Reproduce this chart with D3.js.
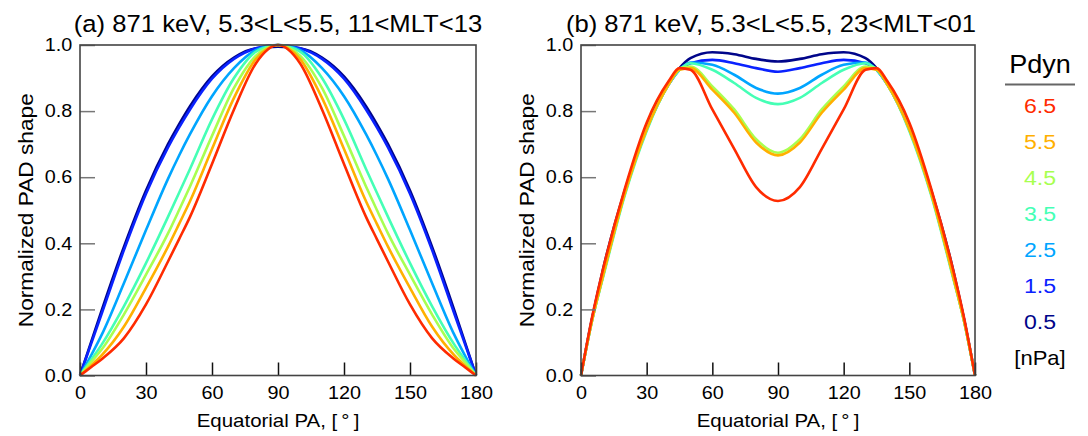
<!DOCTYPE html>
<meta charset="utf-8">
<script src="https://d3js.org/d3.v7.min.js"></script>
<style>
    body { margin: 0; background: #fff; }
    svg { display: block; font-family: "Liberation Sans", Arial, sans-serif; }
</style>
<svg width="1088" height="436"></svg>
<script>
    // pitch angle grid (deg)
    const pa = [0,5,10,20,30,40,45,50,60,70,80,90,100,110,120,130,135,140,150,160,170,175,180];
    const pdyn = ["6.5","5.5","4.5","3.5","2.5","1.5","0.5"];
    const colors = ["#ff2b00","#ffb000","#a8ff50","#45ffb5","#00a5ff","#0a22ff","#00058a"];
    const yTicks = [0, 0.2, 0.4, 0.6, 0.8, 1.0];
    const xTicks = [0, 30, 60, 90, 120, 150, 180];

    // (a) noon sector, ordered like pdyn
    const a65 = [0,0.025,0.05,0.113,0.215,0.345,0.412,0.48,0.64,0.805,0.945,1.0,0.945,0.805,0.64,0.48,0.412,0.345,0.215,0.113,0.05,0.025,0];
    const a55 = [0,0.03,0.062,0.148,0.265,0.39,0.458,0.527,0.685,0.84,0.958,1.0,0.958,0.84,0.685,0.527,0.458,0.39,0.265,0.148,0.062,0.03,0];
    const a45 = [0,0.04,0.08,0.185,0.305,0.43,0.50,0.572,0.725,0.87,0.968,1.0,0.968,0.87,0.725,0.572,0.50,0.43,0.305,0.185,0.08,0.04,0];
    const a35 = [0,0.047,0.095,0.21,0.34,0.48,0.552,0.625,0.775,0.90,0.98,1.0,0.98,0.90,0.775,0.625,0.552,0.48,0.34,0.21,0.095,0.047,0];
    const a25 = [0,0.06,0.125,0.28,0.44,0.595,0.665,0.73,0.845,0.93,0.985,1.0,0.985,0.93,0.845,0.73,0.665,0.595,0.44,0.28,0.125,0.06,0];
    const a15 = [0,0.095,0.19,0.38,0.55,0.69,0.75,0.805,0.898,0.958,0.99,1.0,0.99,0.958,0.898,0.805,0.75,0.69,0.55,0.38,0.19,0.095,0];
    const a05 = [0,0.10,0.20,0.39,0.56,0.70,0.76,0.815,0.905,0.962,0.99,0.995,0.99,0.962,0.905,0.815,0.76,0.70,0.56,0.39,0.20,0.10,0];

    // (b) midnight sector
    const b65 = [0,0.175,0.32,0.565,0.765,0.89,0.93,0.925,0.805,0.686,0.57,0.528,0.57,0.686,0.805,0.925,0.93,0.89,0.765,0.565,0.32,0.175,0];
    const b55 = [0,0.165,0.30,0.55,0.745,0.88,0.925,0.93,0.865,0.795,0.705,0.666,0.705,0.795,0.865,0.93,0.925,0.88,0.745,0.55,0.30,0.165,0];
    const b45 = [0,0.165,0.30,0.55,0.745,0.88,0.93,0.935,0.875,0.805,0.715,0.674,0.715,0.805,0.875,0.935,0.93,0.88,0.745,0.55,0.30,0.165,0];
    const b35 = [0,0.165,0.295,0.545,0.74,0.88,0.925,0.945,0.925,0.885,0.84,0.821,0.84,0.885,0.925,0.945,0.925,0.88,0.74,0.545,0.295,0.165,0];
    const b25 = [0,0.165,0.30,0.55,0.745,0.88,0.925,0.947,0.94,0.91,0.87,0.853,0.87,0.91,0.94,0.947,0.925,0.88,0.745,0.55,0.30,0.165,0];
    const b15 = [0,0.17,0.31,0.555,0.745,0.88,0.925,0.945,0.955,0.945,0.93,0.919,0.93,0.945,0.955,0.945,0.925,0.88,0.745,0.555,0.31,0.17,0];
    const b05 = [0,0.17,0.32,0.56,0.75,0.885,0.93,0.96,0.978,0.972,0.958,0.95,0.958,0.972,0.978,0.96,0.93,0.885,0.75,0.56,0.32,0.17,0];

    const panels = [
        { title: "(a) 871 keV, 5.3<L<5.5, 11<MLT<13", x0: 80, x1: 476, dx: 0, series: [a65,a55,a45,a35,a25,a15,a05] },
        { title: "(b) 871 keV, 5.3<L<5.5, 23<MLT<01", x0: 581, x1: 975, dx: -7, series: [b65,b55,b45,b35,b25,b15,b05] }
    ];

    const svg = d3.select("svg");
    const yTop = 45, yBottom = 375.5;
    const sx = 1.1; // the original lettering is a bit wide

    panels.forEach(p => {
        const x = d3.scaleLinear().domain([0, 180]).range([p.x0, p.x1]);
        const y = d3.scaleLinear().domain([0, 1]).range([yBottom, yTop]);
        const g = svg.append("g");

        // curves, low Pdyn first so red ends on top
        const line = d3.line().x((d, i) => x(pa[i])).y(d => y(d)).curve(d3.curveMonotoneX);
        const order = d3.range(p.series.length).reverse();
        g.selectAll("path.curve")
            .data(order)
            .enter().append("path")
            .attr("class", "curve")
            .attr("fill", "none")
            .attr("stroke", i => colors[i])
            .attr("stroke-width", 2.6)
            .attr("d", i => line(p.series[i]));

        // axes with inward ticks
        const ya = g.append("g").attr("transform", `translate(${p.x0},0)`)
            .call(d3.axisLeft(y).tickValues(yTicks).tickFormat(d3.format(".1f")).tickSizeInner(-15).tickSizeOuter(0).tickPadding(7));
        ya.select(".domain").remove();
        ya.selectAll("line").attr("stroke", "#777").attr("stroke-width", 1.5);
        ya.selectAll("text").attr("font-size", 18).attr("fill", "#000").attr("transform", `scale(${sx},1)`);

        const xa = g.append("g").attr("transform", `translate(0,${yBottom})`)
            .call(d3.axisBottom(x).tickValues(xTicks).tickSizeInner(-13).tickSizeOuter(0).tickPadding(11));
        xa.select(".domain").remove();
        xa.selectAll("line").attr("stroke", "#111").attr("stroke-width", 1.5);
        xa.selectAll("text").attr("font-size", 18).attr("fill", "#000").attr("transform", `scale(${sx},1)`);

        // frame
        g.append("rect")
            .attr("x", p.x0).attr("y", yTop)
            .attr("width", p.x1 - p.x0).attr("height", yBottom - yTop)
            .attr("fill", "none").attr("stroke", "#444").attr("stroke-width", 1.6);

        const cx = (p.x0 + p.x1) / 2;
        g.append("text")
            .attr("transform", `translate(${cx + p.dx},32) scale(${sx},1)`)
            .attr("text-anchor", "middle").attr("font-size", 23.3)
            .text(p.title);

        g.append("text")
            .attr("transform", `translate(${cx},427) scale(${sx},1)`)
            .attr("text-anchor", "middle").attr("font-size", 18.6)
            .text("Equatorial PA, [\u2009°\u2009]");

        g.append("text")
            .attr("transform", `translate(${p.x0 - 47},${(yTop + yBottom) / 2}) rotate(-90)`)
            .attr("text-anchor", "middle").attr("font-size", 20)
            .attr("textLength", 234).attr("lengthAdjust", "spacingAndGlyphs")
            .text("Normalized PAD shape");
    });

    // legend
    const lg = svg.append("g").attr("transform", "translate(1040,0)");
    lg.append("text").attr("transform", `translate(0,73) scale(1.04,1)`)
        .attr("text-anchor", "middle").attr("font-size", 26).text("Pdyn");
    lg.append("line").attr("x1", -35).attr("x2", 35).attr("y1", 84.5).attr("y2", 84.5)
        .attr("stroke", "#666").attr("stroke-width", 2);

    const ly = d3.scaleLinear().domain([0, 1]).range([112.5, 148.5]);
    lg.selectAll("text.item")
        .data(pdyn)
        .enter().append("text")
        .attr("class", "item")
        .attr("transform", (d, i) => `translate(0,${ly(i)}) scale(${sx},1)`)
        .attr("text-anchor", "middle").attr("font-size", 21)
        .attr("fill", (d, i) => colors[i])
        .text(d => d);
    lg.append("text")
        .attr("transform", `translate(0,${ly(pdyn.length)}) scale(${sx},1)`)
        .attr("text-anchor", "middle").attr("font-size", 20)
        .text("[nPa]");
</script>
